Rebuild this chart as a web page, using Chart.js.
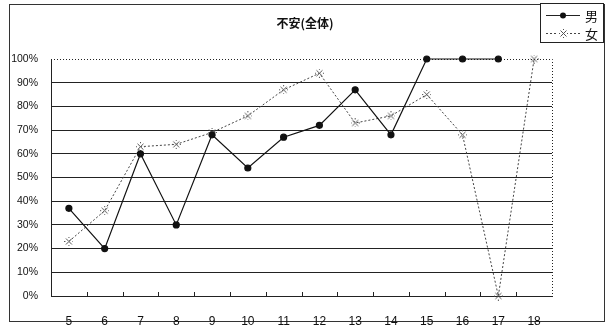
<!DOCTYPE html>
<html>
<head>
<meta charset="utf-8">
<script src="https://cdn.jsdelivr.net/npm/chart.js@4"></script>
<style>
  body { margin: 0; background: #fff; }
  #wrap { width: 609px; height: 326px; position: relative; }
</style>
</head>
<body>
<div id="wrap"><canvas id="anxChart" width="609" height="326"></canvas></div>
<script>
// chart data
const titleText = "不安(全体)";
const ages = ["5", "6", "7", "8", "9", "10", "11", "12", "13", "14", "15", "16", "17", "18"];
const maleLabel = "男";
const femaleLabel = "女";
const maleValues = [37, 20, 60, 30, 68, 54, 67, 72, 87, 68, 100, 100, 100, null];
const femaleValues = [23, 36, 63, 64, 69, 76, 87, 94, 73, 76, 85, 68, 0, 100];
const yTicks = [0, 10, 20, 30, 40, 50, 60, 70, 80, 90, 100];

// little "※" style marker for the female series
function makeKomeMark() {
  const c = document.createElement("canvas");
  c.width = 9;
  c.height = 9;
  const g = c.getContext("2d");
  g.strokeStyle = "#555";
  g.lineWidth = 1;
  g.beginPath();
  g.moveTo(1.5, 1.5); g.lineTo(7.5, 7.5);
  g.moveTo(7.5, 1.5); g.lineTo(1.5, 7.5);
  g.stroke();
  g.fillStyle = "#555";
  g.fillRect(4, 0, 1, 1);
  g.fillRect(4, 8, 1, 1);
  g.fillRect(0, 4, 1, 1);
  g.fillRect(8, 4, 1, 1);
  return c;
}
const komeMark = makeKomeMark();

// frame, title, inner tick marks, dotted plot border and legend box
const decorPlugin = {
  id: "decor",
  beforeDraw(chart) {
    const ctx = chart.ctx;
    ctx.save();
    ctx.fillStyle = "#fff";
    ctx.fillRect(0, 0, chart.width, chart.height);
    ctx.strokeStyle = "#333";
    ctx.lineWidth = 1;
    ctx.strokeRect(9.5, 4.5, 595, 317);
    ctx.restore();
  },
  beforeDatasetsDraw(chart) {
    const ctx = chart.ctx;
    const area = chart.chartArea;
    const xs = chart.scales.x;
    ctx.save();
    ctx.strokeStyle = "#222";
    ctx.lineWidth = 1;

    // tick marks pointing up from the x axis, between categories
    ctx.beginPath();
    for (let i = 1; i < ages.length; i++) {
      const x = Math.round((xs.getPixelForValue(i - 1) + xs.getPixelForValue(i)) / 2) + 0.5;
      ctx.moveTo(x, area.bottom);
      ctx.lineTo(x, area.bottom - 4);
    }
    ctx.stroke();

    // dotted top and right edges of the plot
    const r = Math.round(area.right) + 0.5;
    const t = Math.round(area.top) + 0.5;
    ctx.setLineDash([1, 2]);
    ctx.beginPath();
    ctx.moveTo(area.left, t);
    ctx.lineTo(r, t);
    ctx.lineTo(r, area.bottom);
    ctx.stroke();
    ctx.restore();
  },
  afterDraw(chart) {
    const ctx = chart.ctx;
    ctx.save();

    // title
    ctx.fillStyle = "#111";
    ctx.font = "bold 12px 'Noto Sans CJK JP'";
    ctx.textAlign = "center";
    ctx.textBaseline = "middle";
    ctx.fillText(titleText, 305, 23);

    // legend box
    const lx = 540, ly = 3, lw = 63, lh = 39;
    ctx.fillStyle = "#fff";
    ctx.fillRect(lx, ly, lw, lh);
    ctx.strokeStyle = "#222";
    ctx.lineWidth = 1;
    ctx.strokeRect(lx + 0.5, ly + 0.5, lw, lh);

    // male row
    ctx.beginPath();
    ctx.moveTo(546, 15.5);
    ctx.lineTo(580, 15.5);
    ctx.stroke();
    ctx.fillStyle = "#111";
    ctx.beginPath();
    ctx.arc(563, 15.5, 3, 0, Math.PI * 2);
    ctx.fill();

    // female row
    ctx.strokeStyle = "#444";
    ctx.setLineDash([2, 2]);
    ctx.beginPath();
    ctx.moveTo(546, 33.5);
    ctx.lineTo(580, 33.5);
    ctx.stroke();
    ctx.setLineDash([]);
    ctx.fillStyle = "#fff";
    ctx.fillRect(558, 29, 10, 10);
    ctx.drawImage(komeMark, 559, 29);

    ctx.fillStyle = "#111";
    ctx.font = "13px 'Noto Sans CJK JP'";
    ctx.textAlign = "left";
    ctx.fillText(maleLabel, 585, 16);
    ctx.fillText(femaleLabel, 585, 34);
    ctx.restore();
  }
};

const ctx = document.getElementById("anxChart").getContext("2d");
new Chart(ctx, {
  type: "line",
  data: {
    labels: ages,
    datasets: [
      {
        label: maleLabel,
        data: maleValues,
        borderColor: "#111",
        borderWidth: 1.2,
        backgroundColor: "#111",
        pointBackgroundColor: "#111",
        pointBorderColor: "#111",
        pointStyle: "circle",
        pointRadius: 3,
        tension: 0,
        fill: false,
        spanGaps: false,
        clip: false
      },
      {
        label: femaleLabel,
        data: femaleValues,
        borderColor: "#444",
        borderWidth: 1,
        borderDash: [2, 2],
        pointStyle: komeMark,
        pointRadius: 4,
        tension: 0,
        fill: false,
        clip: false
      }
    ]
  },
  options: {
    responsive: false,
    animation: false,
    layout: {
      padding: { left: 9, right: 57, top: 59, bottom: 0 }
    },
    plugins: {
      legend: { display: false },
      title: { display: false },
      tooltip: { enabled: false }
    },
    scales: {
      x: {
        offset: true,
        grid: { display: false },
        border: { display: true, color: "#222", width: 1 },
        ticks: {
          color: "#111",
          padding: 10,
          maxRotation: 0,
          font: { family: "'Liberation Sans', Arial", size: 12 }
        },
        afterFit(scale) { scale.height = 30; }
      },
      y: {
        min: 0,
        max: 100,
        afterBuildTicks(scale) {
          scale.ticks = yTicks.map(v => ({ value: v }));
        },
        grid: {
          drawTicks: false,
          color: (c) => (c.tick && c.tick.value === 100 ? "rgba(0,0,0,0)" : "#222"),
          lineWidth: 1
        },
        border: { display: true, color: "#222", width: 1 },
        ticks: {
          color: "#111",
          padding: 13,
          font: { family: "'Liberation Sans', Arial", size: 10.5 },
          callback: (v) => v + "%"
        },
        afterFit(scale) { scale.width = 42; }
      }
    }
  },
  plugins: [decorPlugin]
});
</script>
</body>
</html>
